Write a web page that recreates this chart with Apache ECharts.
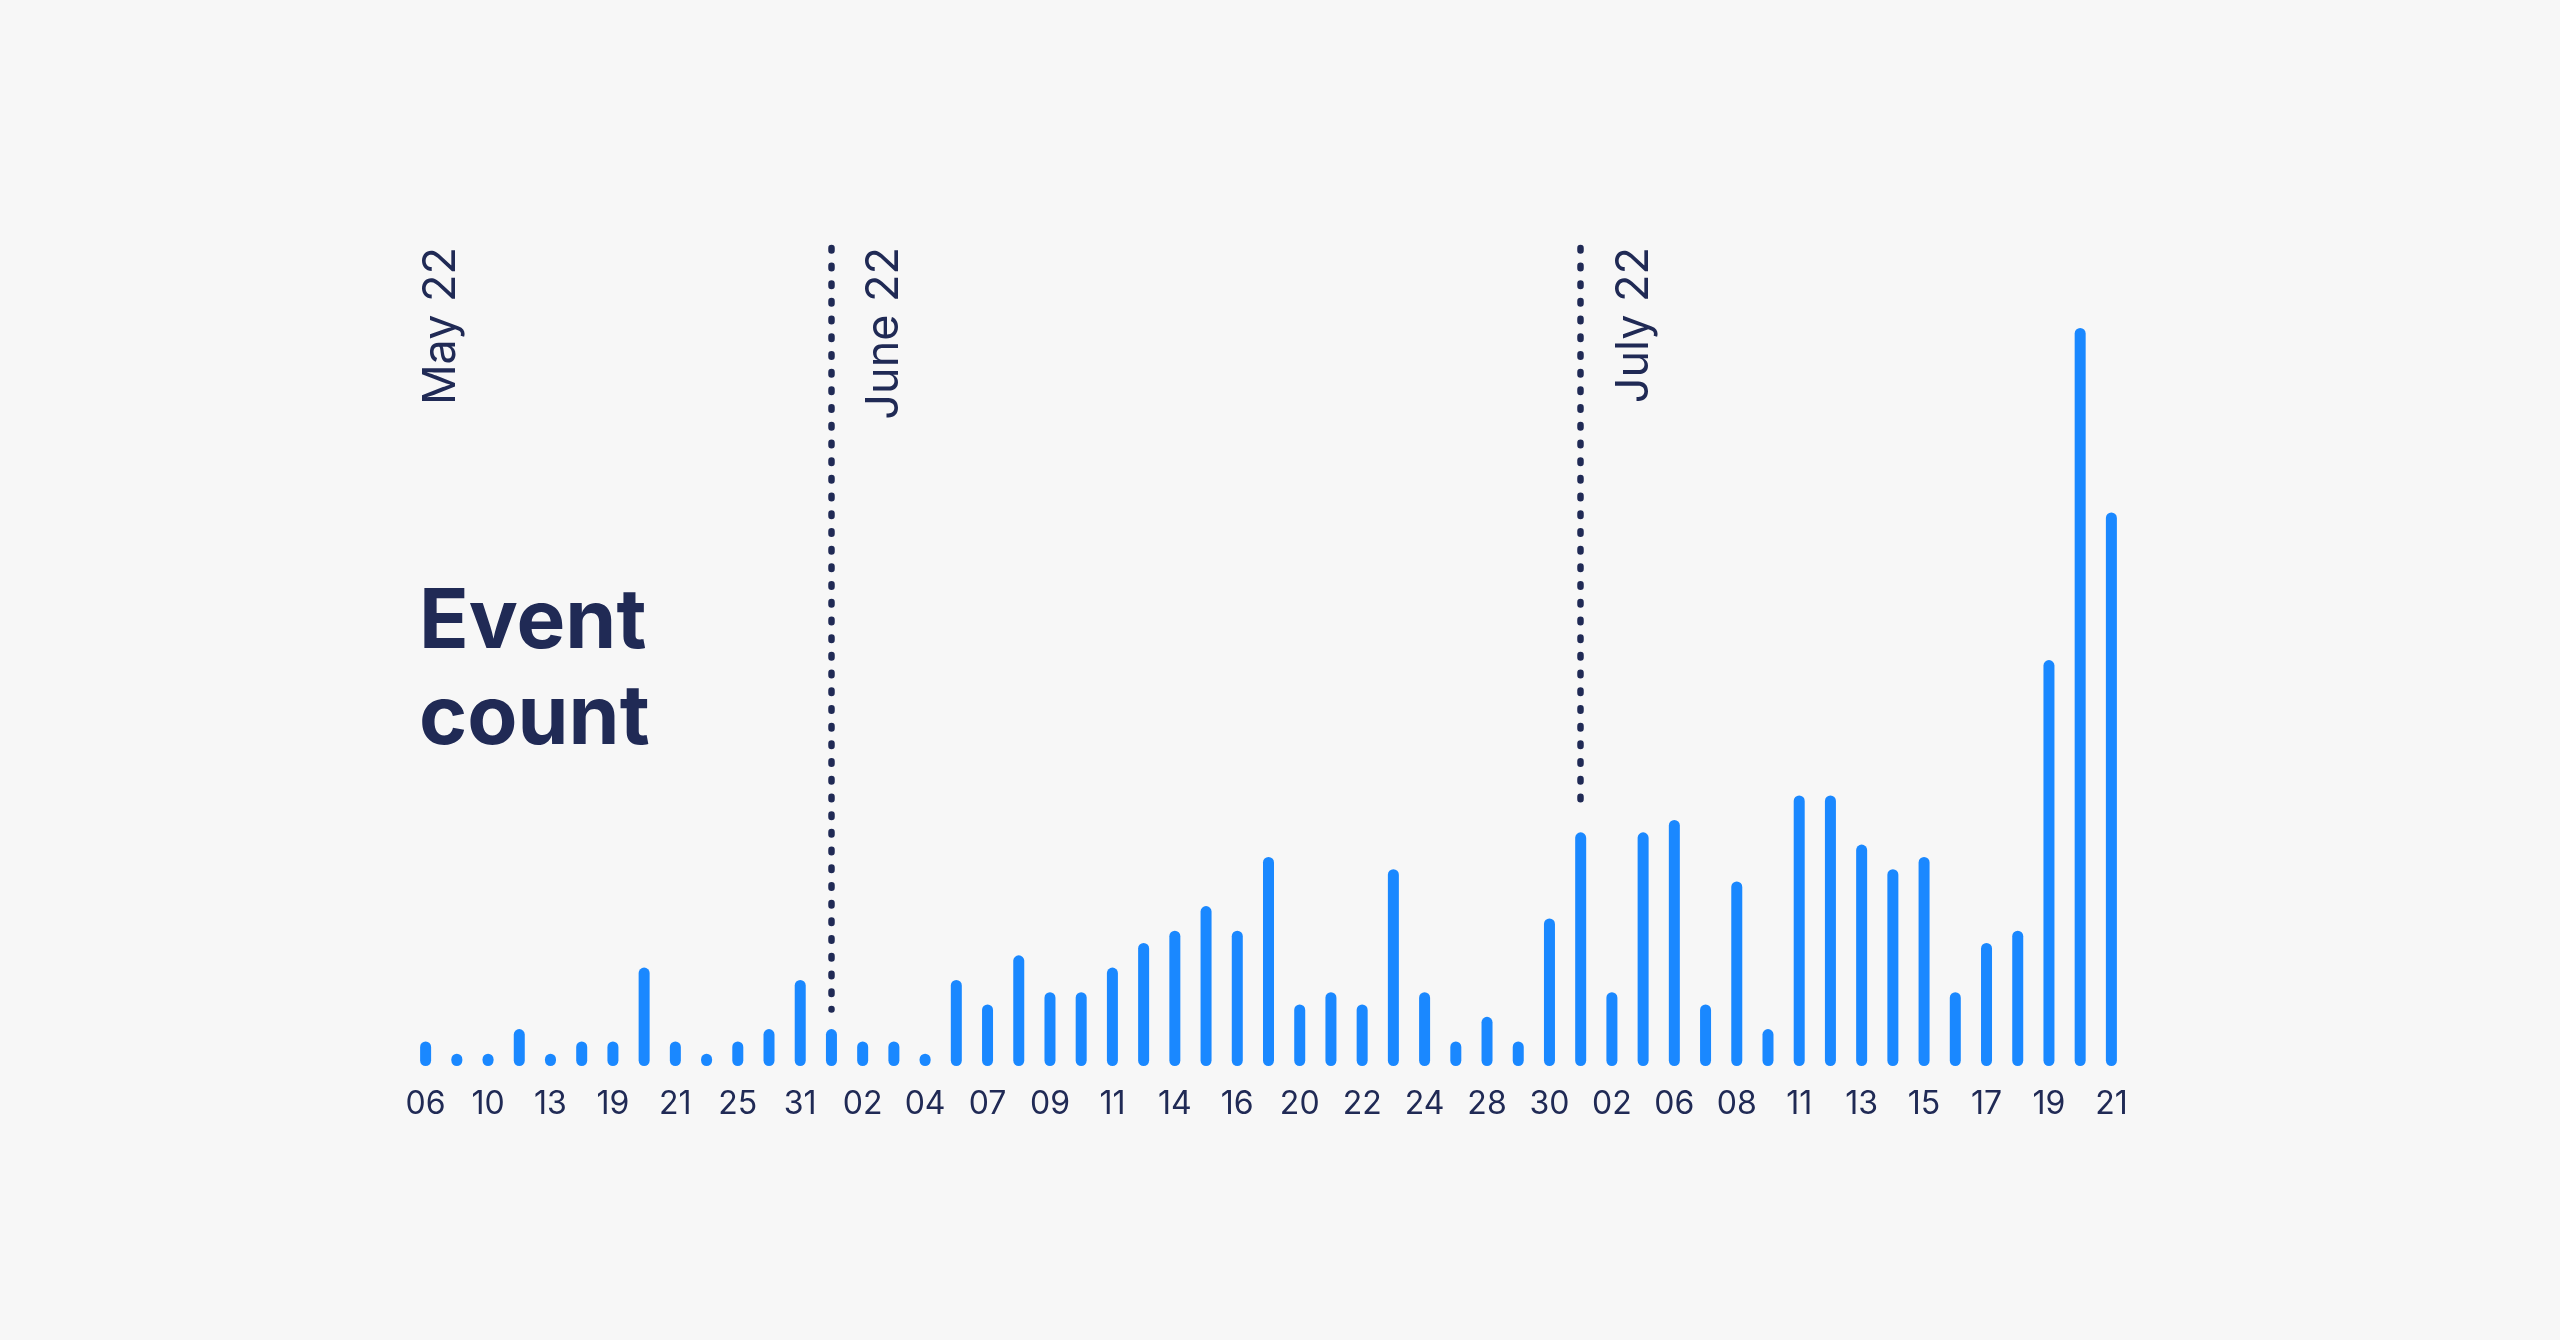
<!DOCTYPE html>
<html lang="en">
<head>
<meta charset="utf-8" />
<title>Event count</title>
<style>
  html, body { margin: 0; padding: 0; background: #f7f7f7; }
  #chart { width: 2560px; height: 1340px; }
</style>
</head>
<body>
<div id="chart"></div>
<script src="https://cdn.jsdelivr.net/npm/echarts/dist/echarts.min.js"></script>
<script>
  "use strict";

  // one bar per day with events; only every second day gets a tick label
  var days = [
    '2022-05-06', '2022-05-08', '2022-05-10', '2022-05-12', '2022-05-13',
    '2022-05-16', '2022-05-19', '2022-05-20', '2022-05-21', '2022-05-23',
    '2022-05-25', '2022-05-28', '2022-05-31', '2022-06-01', '2022-06-02',
    '2022-06-03', '2022-06-04', '2022-06-06', '2022-06-07', '2022-06-08',
    '2022-06-09', '2022-06-10', '2022-06-11', '2022-06-13', '2022-06-14',
    '2022-06-15', '2022-06-16', '2022-06-18', '2022-06-20', '2022-06-21',
    '2022-06-22', '2022-06-23', '2022-06-24', '2022-06-27', '2022-06-28',
    '2022-06-29', '2022-06-30', '2022-07-01', '2022-07-02', '2022-07-05',
    '2022-07-06', '2022-07-07', '2022-07-08', '2022-07-10', '2022-07-11',
    '2022-07-12', '2022-07-13', '2022-07-14', '2022-07-15', '2022-07-16',
    '2022-07-17', '2022-07-18', '2022-07-19', '2022-07-20', '2022-07-21'
  ];

  var counts = [
    2, 1, 1, 3, 1, 2, 2, 8, 2, 1,
    2, 3, 7, 3, 2, 2, 1, 7, 5, 9,
    6, 6, 8, 10, 11, 13, 11, 17, 5, 6,
    5, 16, 6, 2, 4, 2, 12, 19, 6, 19,
    20, 5, 15, 3, 22, 22, 18, 16, 17, 6,
    10, 11, 33, 60, 45
  ];

  var monthNames = ['May 22', 'June 22', 'July 22'];

  var navy = '#202a55';
  var blue = '#1a88ff';
  var yMax = 66.5;

  // first bar of every month
  var monthStarts = [];
  days.forEach(function (d, i) {
    if (i === 0 || d.slice(5, 7) !== days[i - 1].slice(5, 7)) {
      monthStarts.push(i);
    }
  });

  // dotted dividers, from the top of the plot down to just above the bar
  var dividers = [];
  monthStarts.forEach(function (i, k) {
    if (k === 0) return;
    dividers.push([{ coord: [i, yMax] }, { coord: [i, counts[i] + 1.6] }]);
  });

  var chart = echarts.init(document.getElementById('chart'));

  chart.setOption({
    backgroundColor: '#f7f7f7',
    animation: false,
    title: {
      text: 'Event\ncount',
      left: 414,
      top: 570,
      textStyle: {
        fontFamily: 'Inter',
        fontSize: 82,
        fontWeight: 'bold',
        lineHeight: 96,
        color: navy
      }
    },
    grid: {
      left: 410,
      right: 433,
      top: 248,
      bottom: 274
    },
    xAxis: {
      type: 'category',
      data: days,
      axisLine: { show: false },
      axisTick: { show: false },
      axisLabel: {
        interval: 1,
        margin: 22,
        color: navy,
        fontFamily: 'Inter',
        fontSize: 32,
        formatter: function (v) {
          return v.slice(8);
        }
      }
    },
    yAxis: {
      type: 'value',
      min: 0,
      max: yMax,
      show: false
    },
    series: [{
      type: 'bar',
      data: counts,
      barWidth: 11,
      itemStyle: {
        color: blue,
        borderRadius: 5.5
      },
      emphasis: { disabled: true },
      markLine: {
        silent: true,
        symbol: ['none', 'none'],
        label: { show: false },
        lineStyle: {
          color: navy,
          width: 6.5,
          type: [2.5, 15.2],
          cap: 'round',
          opacity: 1
        },
        emphasis: { disabled: true },
        data: dividers
      }
    }]
  });

  // month names, rotated, ending at the top of the plot
  var labels = monthStarts.map(function (i, k) {
    var x = k === 0 ? 419 : chart.convertToPixel({ xAxisIndex: 0 }, i) + 31;
    return {
      type: 'text',
      x: x,
      y: 247,
      rotation: Math.PI / 2,
      style: {
        text: monthNames[k],
        fill: navy,
        fontFamily: 'Inter',
        fontSize: 45,
        align: 'right',
        verticalAlign: 'top'
      }
    };
  });

  chart.setOption({ graphic: labels });
</script>
</body>
</html>
